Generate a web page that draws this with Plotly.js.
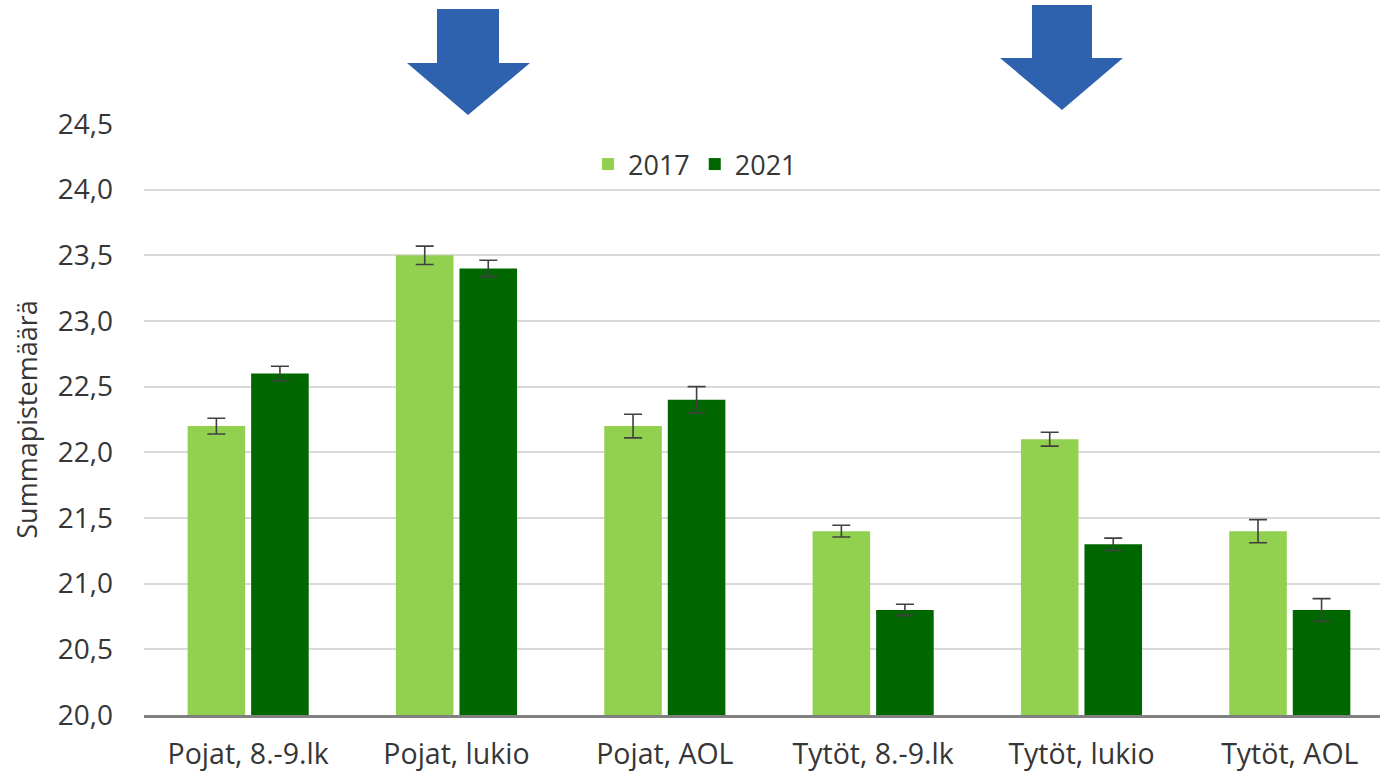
<!DOCTYPE html>
<html>
<head>
<meta charset="utf-8">
<script src="https://cdn.plot.ly/plotly-3.0.1.min.js"></script>
<style>html,body{margin:0;padding:0;background:#fff;}#chart{width:1380px;height:778px;}</style>
</head>
<body>
<div id="chart"></div>
<script>
const categories = ["Pojat, 8.-9.lk", "Pojat, lukio", "Pojat, AOL", "Tytöt, 8.-9.lk", "Tytöt, lukio", "Tytöt, AOL"];
const seriesNames = ["2017", "2021"];
const values2017 = [22.2, 23.5, 22.2, 21.4, 22.1, 21.4];
const values2021 = [22.6, 23.4, 22.4, 20.8, 21.3, 20.8];
const err2017 = [0.06, 0.07, 0.09, 0.045, 0.053, 0.088];
const err2021 = [0.055, 0.062, 0.10, 0.043, 0.047, 0.086];
const yAxisTitle = "Summapistemäärä";

const W = 1380, H = 778;
const M = {l: 144, r: 0, t: 124, b: 63};
const pw = W - M.l - M.r, ph = H - M.t - M.b;
const px2x = x => (x - M.l) / pw;
const px2y = y => (H - M.b - y) / ph;

function arrowPath(pts) {
  return 'M' + pts.map(p => px2x(p[0]).toFixed(5) + ',' + px2y(p[1]).toFixed(5)).join(' L') + ' Z';
}
const arrow1 = [[437,9],[499,9],[499,63],[530,63],[468,115],[407,63],[437,63]];
const arrow2 = [[1032,5],[1092,5],[1092,58],[1123,58],[1062,110],[1000,58],[1032,58]];

const fontFam = '"Open Sans", "Noto Sans", sans-serif';
const txtColor = '#363636';

const errStyle = {type: 'data', visible: true, color: '#404040', thickness: 1.6, width: 9};

const traces = [
  {type: 'bar', name: seriesNames[0], x: categories, y: values2017,
   marker: {color: '#92D050'},
   error_y: Object.assign({array: err2017}, errStyle)},
  {type: 'bar', name: seriesNames[1], x: categories, y: values2021,
   marker: {color: '#006600'},
   error_y: Object.assign({array: err2021}, errStyle)}
];

const layout = {
  width: W, height: H,
  margin: M,
  paper_bgcolor: '#fff', plot_bgcolor: '#fff',
  separators: ', ',
  font: {family: fontFam, color: txtColor, size: 27},
  barmode: 'group', bargap: 0.39, bargroupgap: 0.094,
  showlegend: true,
  legend: {orientation: 'h', x: px2x(588), y: px2y(140), xanchor: 'left', yanchor: 'top',
           font: {size: 27, color: txtColor}, bgcolor: 'rgba(0,0,0,0)', itemwidth: 30},
  xaxis: {range: [-0.5, 5.433], showgrid: false, zeroline: false,
          showline: true, linecolor: '#808080', linewidth: 3,
          ticks: '', ticklabelstandoff: 12,
          tickfont: {size: 28.5, color: txtColor}},
  yaxis: {range: [20, 24.5], dtick: 0.5, tick0: 20, tickformat: '.1f',
          showgrid: true, gridcolor: '#d9d9d9', gridwidth: 2,
          zeroline: false, showline: false, ticks: '', ticklabelstandoff: 30,
          tickfont: {size: 28, color: txtColor},
          title: {text: yAxisTitle, font: {size: 27, color: txtColor}, standoff: 12}},
  shapes: [
    {type: 'path', xref: 'paper', yref: 'paper', path: arrowPath(arrow1), fillcolor: '#2E62AE', line: {width: 0}},
    {type: 'path', xref: 'paper', yref: 'paper', path: arrowPath(arrow2), fillcolor: '#2E62AE', line: {width: 0}}
  ]
};

Plotly.newPlot('chart', traces, layout, {displayModeBar: false, staticPlot: true});
</script>
</body>
</html>
